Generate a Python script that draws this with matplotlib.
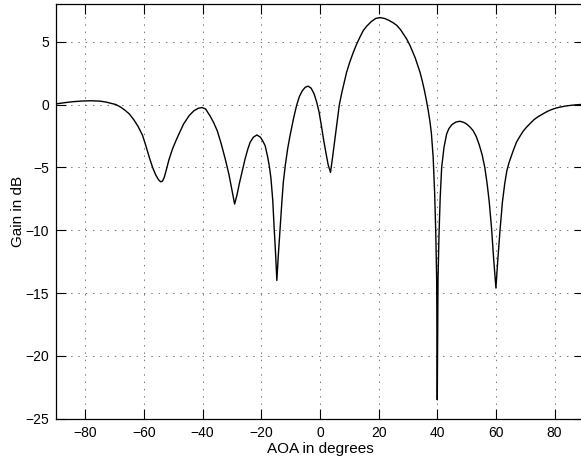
import numpy as np
import matplotlib
matplotlib.use('Agg')
from matplotlib import pyplot as plt

plt.rcParams['font.family'] = ['Liberation Sans', 'DejaVu Sans']

# angle of arrival (deg) and gain (dB)
aoa = [-90, -87, -84, -81, -78, -75, -73, -71, -69.6, -68, -66.5, -65, -63.5,
       -62, -60.5, -59.4, -58.2, -57, -56, -55, -54.3, -53.7, -53.1, -52.5,
       -51.5, -50.3, -49.1, -48, -46.5, -44.6, -43, -41.5, -40.2, -39, -37.5,
       -36.3, -35, -33.7, -32.3, -31, -30, -29.1, -28.3, -27.5, -26.6, -25.5,
       -24.6, -23.8, -22.7, -21.5, -20.3, -19.5, -18.7, -17.8, -17.2, -16.7,
       -16.1, -15.6, -15.1, -14.7, -14.2, -13.6, -13, -12.5, -11.8, -11,
       -10.2, -9, -8, -7, -6, -5, -4, -3, -2, -1.1, -0.3, 0.5, 1.2, 2, 2.8,
       3.6, 4.3, 5.1, 5.8, 6.6, 7.5, 8.4, 9.1, 10.2, 11.4, 12.5, 13.6, 14.8,
       16, 17.5, 19, 20.5, 22, 23.5, 25, 26.2, 27.5, 28.5, 29.6, 30.7, 31.6,
       32.5, 33.3, 34.1, 34.8, 35.5, 36.2, 36.9, 37.5, 38, 38.6, 39.1, 39.5,
       39.8, 40, 40.25, 40.6, 41, 41.5, 42.3, 43.2, 44, 45, 46.3, 47.7, 49,
       50, 51.2, 52.2, 53.3, 54.3, 55.3, 56.2, 57, 57.7, 58.5, 59.2, 60, 60.6,
       61.4, 62.2, 63, 63.7, 64.5, 65.9, 67, 68, 69.2, 70.4, 71.7, 73, 74.5,
       76.1, 77.5, 79, 80.5, 81.8, 83.5, 85, 87, 88.6, 90]
gain = [0.05, 0.15, 0.23, 0.28, 0.3, 0.27, 0.2, 0.08, 0.0, -0.2, -0.45,
        -0.75, -1.2, -1.75, -2.45, -3.25, -4.2, -5.05, -5.6, -6.0, -6.15,
        -6.1, -5.8, -5.3, -4.4, -3.55, -2.87, -2.3, -1.55, -0.88, -0.5, -0.3,
        -0.24, -0.35, -0.9, -1.41, -2.1, -3.1, -4.33, -5.6, -6.8, -7.92, -7.2,
        -6.3, -5.4, -4.3, -3.55, -3.0, -2.6, -2.42, -2.6, -2.9, -3.27, -4.2,
        -5.0, -5.9, -7.6, -9.9, -12.0, -14.0, -12.0, -9.9, -7.8, -6.2, -4.8,
        -3.5, -2.47, -1.1, -0.1, 0.65, 1.1, 1.38, 1.46, 1.3, 0.85, 0.18, -0.6,
        -1.7, -2.74, -3.8, -4.8, -5.4, -4.2, -2.74, -1.4, -0.03, 1.0, 1.9,
        2.58, 3.4, 4.17, 4.8, 5.35, 5.9, 6.25, 6.6, 6.85, 6.92, 6.85, 6.7, 6.5,
        6.3, 5.95, 5.6, 5.2, 4.7, 4.2, 3.7, 3.15, 2.58, 1.95, 1.25, 0.45,
        -0.45, -1.35, -2.3, -4.2, -7.0, -10.3, -14.0, -23.5, -14.0, -10.3,
        -7.4, -5.0, -3.4, -2.34, -1.9, -1.6, -1.4, -1.33, -1.42, -1.55, -1.8,
        -2.07, -2.55, -3.2, -4.0, -5.0, -6.3, -7.7, -9.8, -12.2, -14.6, -12.5,
        -10.0, -7.8, -6.3, -5.3, -4.6, -3.67, -3.0, -2.6, -2.15, -1.81, -1.5,
        -1.2, -0.95, -0.74, -0.55, -0.4, -0.28, -0.21, -0.13, -0.08, -0.03,
        0.0, 0.02]

xticks = [-80, -60, -40, -20, 0, 20, 40, 60, 80]
yticks = [-25, -20, -15, -10, -5, 0, 5]

fig = plt.figure(figsize=(5.81, 4.65), dpi=100)
ax = fig.add_axes([0.0964, 0.0996, 0.9086, 0.8918])
ax.plot(aoa, gain, color='k', lw=1.0)
ax.set_xlim(-90, 90)
ax.set_ylim(-25, 8)
ax.set_xticks(xticks)
ax.set_yticks(yticks)
ax.grid(True, linestyle=(0, (1.5, 6)), color='#777777', lw=0.7)
ax.tick_params(direction='in', length=7.5, width=0.8, top=True, right=True,
               labelsize=10, pad=5)
for s in ax.spines.values():
    s.set_linewidth(0.9)
ax.set_xlabel('AOA in degrees', fontsize=11, labelpad=2)
ax.set_ylabel('Gain in dB', fontsize=11, labelpad=0.5)
fig.savefig('out.png', dpi=100)
